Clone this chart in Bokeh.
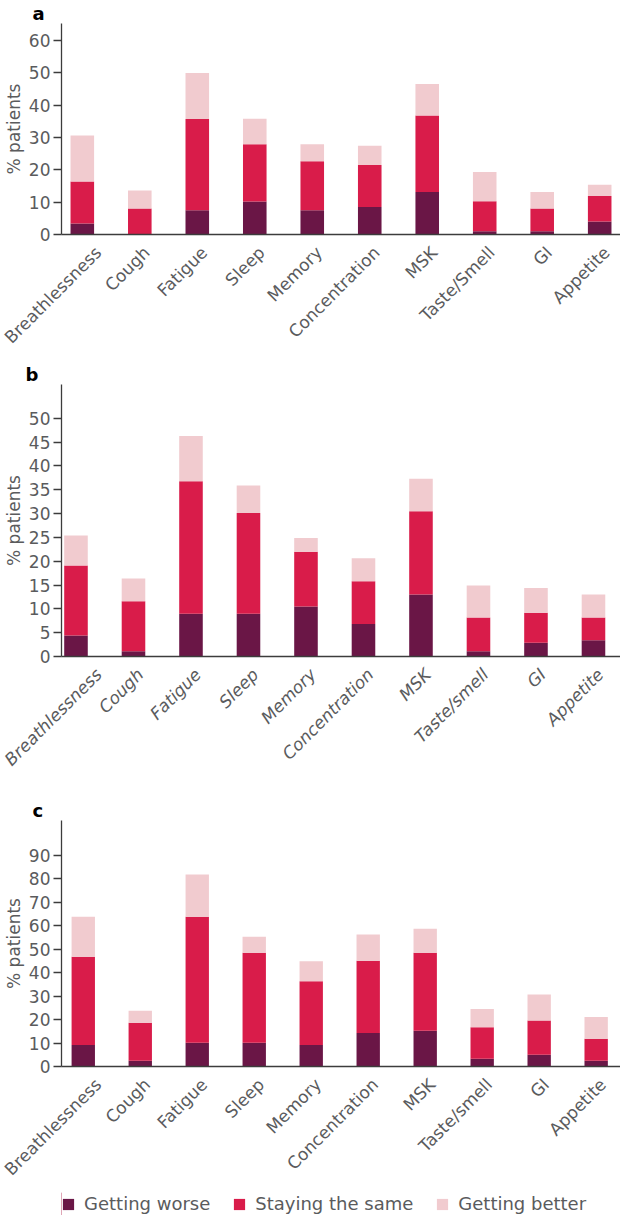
from math import pi
from bokeh.plotting import figure
from bokeh.layouts import column
from bokeh.models import (ColumnDataSource, Range1d, FixedTicker, Title,
                          Legend, LegendItem)
from bokeh.embed import file_html
from bokeh.resources import INLINE

# ---------------- data ----------------
symptoms_a = ["Breathlessness", "Cough", "Fatigue", "Sleep", "Memory",
              "Concentration", "MSK", "Taste/Smell", "GI", "Appetite"]
symptoms_bc = ["Breathlessness", "Cough", "Fatigue", "Sleep", "Memory",
               "Concentration", "MSK", "Taste/smell", "GI", "Appetite"]

series = ["Getting worse", "Staying the same", "Getting better"]

worse_a = [3.4, 0.0, 7.5, 10.2, 7.5, 8.5, 13.1, 1.0, 1.0, 4.0]
same_a = [13.0, 8.0, 28.2, 17.7, 15.1, 13.0, 23.7, 9.3, 7.0, 7.9]
better_a = [14.2, 5.6, 14.2, 7.9, 5.3, 5.9, 9.7, 9.0, 5.1, 3.5]

worse_b = [4.4, 1.1, 9.0, 9.0, 10.5, 6.8, 13.0, 1.1, 2.9, 3.4]
same_b = [14.7, 10.5, 27.8, 21.1, 11.5, 9.0, 17.5, 7.1, 6.3, 4.8]
better_b = [6.3, 4.8, 9.5, 5.8, 2.9, 4.8, 6.8, 6.7, 5.2, 4.8]

worse_c = [9.1, 2.4, 10.1, 10.1, 9.1, 14.3, 15.2, 3.3, 5.0, 2.4]
same_c = [37.6, 16.2, 53.6, 38.3, 27.2, 30.7, 33.2, 13.4, 14.6, 9.4]
better_c = [17.0, 5.1, 18.0, 6.8, 8.5, 11.2, 10.2, 7.8, 11.0, 9.3]

yticks_a = [0, 10, 20, 30, 40, 50, 60]
yticks_b = [0, 5, 10, 15, 20, 25, 30, 35, 40, 45, 50]
yticks_c = [0, 10, 20, 30, 40, 50, 60, 70, 80, 90]

# ---------------- style ----------------
COLORS = ["#6a1646", "#d91c4a", "#f1cbcf"]
FONT = "DejaVu Sans"
GRAY = "#5a5b5d"
AXIS = "#3c3c3c"
STEP = 10          # x units between category centres
LABEL_SHIFT = 1.2  # shift of the rotated category labels (x units)


def make_panel(letter, cats, worse, same, better, yticks, y_end, x_start, x_end,
               height, border_top, border_bottom, border_left, letter_offset,
               italic=False):
    pos = [STEP * i for i in range(len(cats))]
    src = ColumnDataSource(dict(pos=pos, worse=worse, same=same, better=better))
    p = figure(width=620, height=height, output_backend="svg", toolbar_location=None,
               x_range=Range1d(x_start, x_end), y_range=Range1d(0, y_end),
               min_border_left=border_left, min_border_right=0,
               min_border_top=border_top, min_border_bottom=border_bottom)
    p.vbar_stack(["worse", "same", "better"], x="pos", width=4.1, source=src,
                 color=COLORS, line_color=None)
    p.outline_line_color = None
    p.grid.grid_line_color = None

    p.title = Title(text=letter, align="left", offset=letter_offset, standoff=0,
                    text_font=FONT, text_font_size="18px", text_font_style="bold",
                    text_color="black")

    ya = p.yaxis[0]
    ya.ticker = FixedTicker(ticks=yticks)
    ya.minor_tick_line_color = None
    ya.major_tick_in = 0
    ya.major_tick_out = 8
    ya.major_tick_line_color = AXIS
    ya.major_tick_line_width = 1.3
    ya.axis_line_color = AXIS
    ya.axis_line_width = 1.3
    ya.major_label_text_font = FONT
    ya.major_label_text_font_size = "17px"
    ya.major_label_text_color = GRAY
    ya.major_label_standoff = 3
    ya.axis_label = "% patients"
    ya.axis_label_text_font = FONT
    ya.axis_label_text_font_size = "17px"
    ya.axis_label_text_font_style = "normal"
    ya.axis_label_text_color = GRAY
    ya.axis_label_standoff = 2

    xa = p.xaxis[0]
    ticks = [x + LABEL_SHIFT for x in pos]
    xa.ticker = FixedTicker(ticks=ticks)
    xa.major_label_overrides = {t: c for t, c in zip(ticks, cats)}
    xa.major_tick_line_color = None
    xa.major_tick_out = 0
    xa.major_tick_in = 0
    xa.minor_tick_line_color = None
    xa.axis_line_color = AXIS
    xa.axis_line_width = 1.3
    xa.major_label_orientation = pi / 4
    xa.major_label_standoff = 15
    xa.major_label_text_font = FONT
    xa.major_label_text_font_size = "17px"
    xa.major_label_text_color = GRAY
    xa.major_label_text_font_style = "italic" if italic else "normal"
    return p


pa = make_panel("a", symptoms_a, worse_a, same_a, better_a, yticks_a, 65.2, -3.62, 93.62,
                height=359, border_top=22, border_bottom=125, border_left=54,
                letter_offset=-29)
pb = make_panel("b", symptoms_bc, worse_b, same_b, better_b, yticks_b, 57.1, -2.52, 94.7,
                height=435, border_top=25, border_bottom=138, border_left=61,
                letter_offset=-36, italic=True)
pc = make_panel("c", symptoms_bc, worse_c, same_c, better_c, yticks_c, 104.7, -3.82, 94.27,
                height=398, border_top=26, border_bottom=126, border_left=55,
                letter_offset=-29)

# legend strip
pl = figure(width=620, height=23, output_backend="svg", toolbar_location=None,
            x_axis_location=None, y_axis_location=None,
            x_range=Range1d(0, 1), y_range=Range1d(0, 1),
            min_border=0, min_border_left=0, min_border_right=0)
pl.outline_line_color = None
pl.outline_line_alpha = 0
pl.grid.visible = False
items = []
for name, col in zip(series, COLORS):
    r = pl.vbar(x=[-10], top=[1], width=0.1, color=col, line_color=None)
    items.append(LegendItem(label=name, renderers=[r]))
leg = Legend(items=items, orientation="horizontal", location=(0, 1),
             label_text_font=FONT, label_text_font_size="18px", label_text_color=GRAY,
             glyph_width=14, glyph_height=14, label_standoff=9, spacing=22,
             padding=0, margin=0, border_line_color=None, background_fill_alpha=0)
pl.add_layout(leg, "center")

layout = column(pa, pb, pc, pl, spacing=0)
open("out.html", "w").write(file_html(layout, INLINE))
